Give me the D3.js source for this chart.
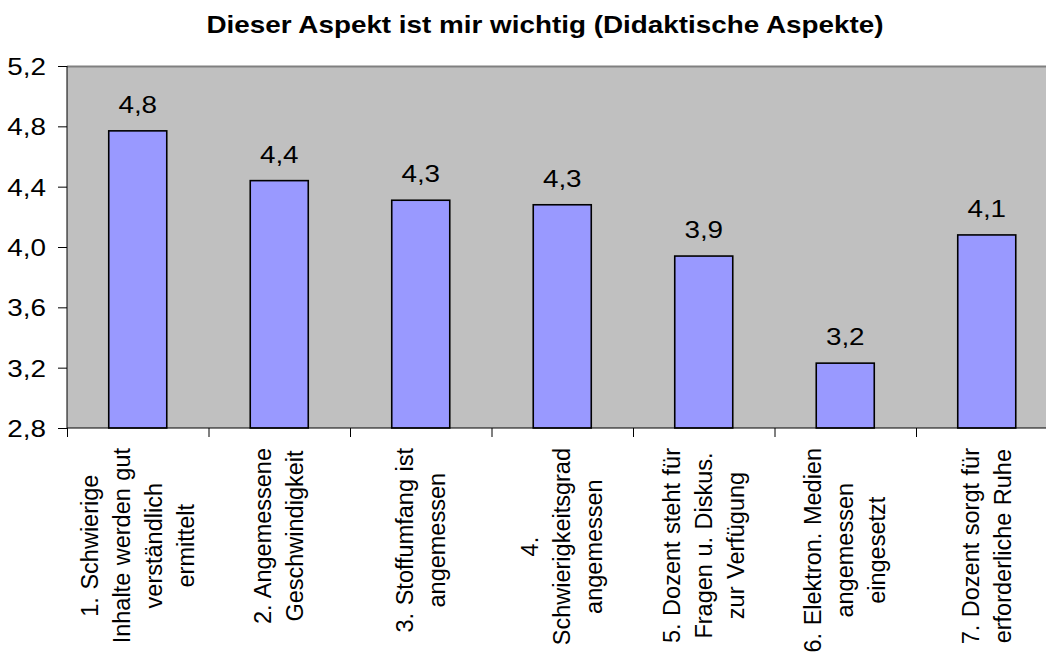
<!DOCTYPE html>
<html>
<head>
<meta charset="utf-8">
<script src="https://cdn.jsdelivr.net/npm/d3@7"></script>
<style>
	body { margin: 0; background: #fff; }
	svg { display: block; font-family: "Liberation Sans", Arial, sans-serif; }
</style>
</head>
<body>
<div id="chart"></div>
<script>
// chart data
var title = "Dieser Aspekt ist mir wichtig (Didaktische Aspekte)";
var categoryLines = [
	["1. Schwierige", "Inhalte werden gut", "verständlich", "ermittelt"],
	["2. Angemessene", "Geschwindigkeit"],
	["3. Stoffumfang ist", "angemessen"],
	["4.", "Schwierigkeitsgrad", "angemessen"],
	["5. Dozent steht für", "Fragen u. Diskus.", "zur Verfügung"],
	["6. Elektron. Medien", "angemessen", "eingesetzt"],
	["7. Dozent sorgt für", "erforderliche Ruhe"]
];
var values = [4.77, 4.44, 4.31, 4.28, 3.94, 3.23, 4.08];
var yTicks = [2.8, 3.2, 3.6, 4.0, 4.4, 4.8, 5.2];

var W = 1046, H = 655;
var margin = {top: 66, left: 67, bottom: 227};
var step = 141.5;
var width = step * values.length,
    height = H - margin.top - margin.bottom;
var fs = 24;
var sx = 1.16; // the original text is a bit stretched horizontally

var svg = d3.select("#chart").append("svg")
	.attr("width", W)
	.attr("height", H);

svg.append("text")
	.attr("transform", "translate(545,33) scale(" + sx + ",1)")
	.attr("text-anchor", "middle")
	.attr("font-weight", "bold")
	.attr("font-size", 24)
	.text(title);

var g = svg.append("g")
	.attr("transform", "translate(" + margin.left + "," + margin.top + ")");

//scales
var x = d3.scaleBand()
	.domain(d3.range(values.length))
	.range([0, width])
	.paddingInner(0.59)
	.paddingOuter(0.295);
var y = d3.scaleLinear()
	.domain([2.8, 5.2])
	.range([height, 0]);

var fmt = function(v) { return d3.format(".1f")(v).replace(".", ","); };

// plot background + top border
g.append("rect")
	.attr("width", width)
	.attr("height", height)
	.attr("fill", "#c0c0c0");
g.append("line")
	.attr("x1", 0).attr("x2", width)
	.attr("y1", 0.5).attr("y2", 0.5)
	.attr("stroke", "#808080")
	.attr("stroke-width", 2);

// bars
g.selectAll(".bar")
	.data(values)
	.enter().append("rect")
	.attr("class", "bar")
	.attr("x", function(d, i) { return x(i); })
	.attr("y", function(d) { return y(d); })
	.attr("width", x.bandwidth())
	.attr("height", function(d) { return height - y(d); })
	.attr("fill", "#9999ff")
	.attr("stroke", "#000")
	.attr("stroke-width", 1.6);

// value labels
g.selectAll(".val")
	.data(values)
	.enter().append("text")
	.attr("class", "val")
	.attr("transform", function(d, i) {
		return "translate(" + (x(i) + x.bandwidth() / 2) + "," + (y(d) - 18) + ") scale(" + sx + ",1)";
	})
	.attr("text-anchor", "middle")
	.attr("font-size", fs)
	.text(fmt);

// y axis
var yAxis = g.append("g")
	.call(d3.axisLeft(y).tickValues(yTicks).tickFormat(fmt).tickSize(9).tickPadding(11));
yAxis.selectAll(".tick text")
	.attr("x", null)
	.attr("dy", "0.35em")
	.attr("transform", "translate(-21,0) scale(" + sx + ",1)")
	.attr("font-size", fs)
	.attr("font-family", null)
	.attr("fill", "#000");
yAxis.select(".domain").attr("d", "M0,0V" + height).attr("stroke", "#000");

// x axis with ticks at category boundaries
var xb = d3.scaleLinear().domain([0, values.length]).range([0, width]);
var xAxis = g.append("g")
	.attr("transform", "translate(0," + height + ")")
	.call(d3.axisBottom(xb).ticks(values.length).tickSize(9).tickFormat(""));
xAxis.select(".domain").attr("d", "M0,0H" + width).attr("stroke", "#000");

// rotated, multi-line category labels
var lh = 32, catFs = 23.5;
g.selectAll(".cat")
	.data(categoryLines)
	.enter().append("g")
	.attr("class", "cat")
	.each(function(lines, i) {
		var grp = d3.select(this);
		var t = grp.append("text")
			.attr("text-anchor", "middle")
			.attr("font-size", catFs)
			.attr("word-spacing", 1);
		var maxLen = 0;
		lines.forEach(function(s, k) {
			var ts = t.append("tspan")
				.attr("x", 0)
				.attr("y", (k - (lines.length - 1) / 2) * lh + 0.35 * catFs)
				.text(s);
			maxLen = Math.max(maxLen, ts.node().getComputedTextLength());
		});
		var cx = x(i) + x.bandwidth() / 2;
		var cy = height + 20 + maxLen / 2;
		grp.attr("transform", "translate(" + cx + "," + cy + ") rotate(-90)");
	});
</script>
</body>
</html>
